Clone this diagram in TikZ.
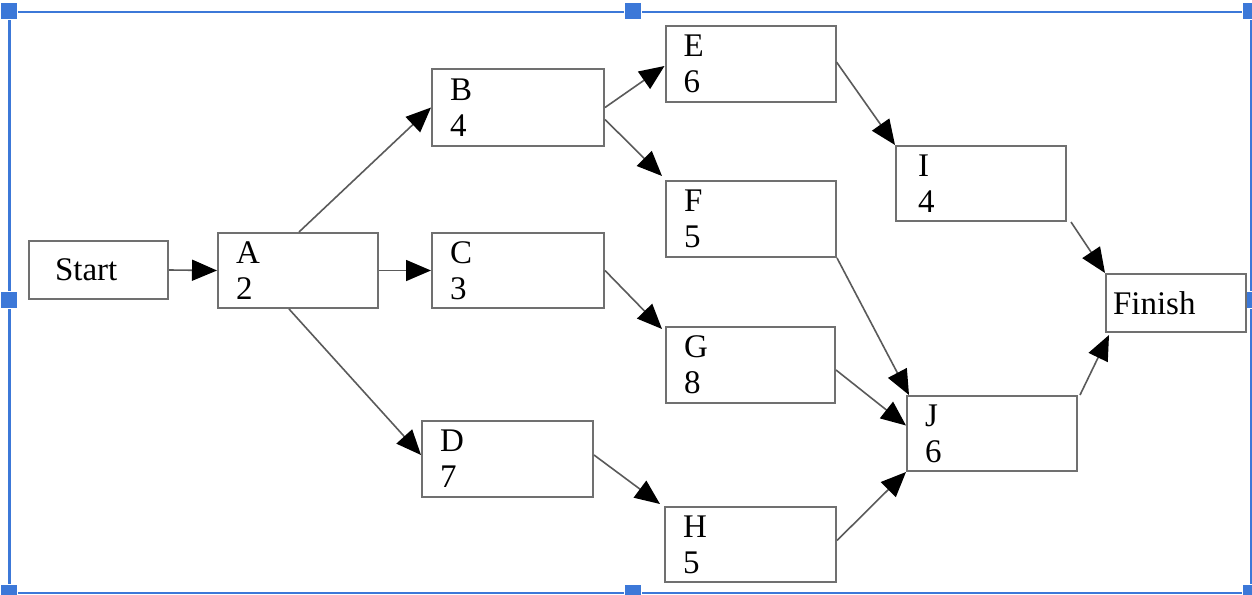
\documentclass[tikz,border=0pt]{standalone}
\usepackage{fontspec}
\setmainfont{Liberation Serif}
\usetikzlibrary{arrows.meta,calc}
\definecolor{boxgray}{HTML}{707070}
\definecolor{linegray}{HTML}{5A5A5A}
\definecolor{selblue}{HTML}{3C78D8}
\tikzset{
  task/.style={draw=boxgray, line width=2pt, fill=white, rectangle, inner ysep=0pt,
    inner xsep=18pt, align=left, font=\fontsize{33}{36}\selectfont},
  conn/.style={draw=linegray, line width=1.6pt, -{Triangle[length=25pt,width=21pt,color=black]}},
  frameline/.style={draw=selblue, line width=2.2pt},
  handle/.style={fill=selblue, draw=white, line width=1.5pt, rectangle, minimum size=17pt, inner sep=0pt}
}
\begin{document}
\begin{tikzpicture}[x=1pt,y=-1pt]
\useasboundingbox (0,0) rectangle (1252,594);
\fill[white] (0,0) rectangle (1252,594);
% selection frame
\draw[frameline] (9.5,12) rectangle (1251,593);
\foreach \hx/\hy [count=\i] in {9/11,633/11,1251/11,9/300,1251/300,9/593,633/593,1251/593}
  \node[handle] (h\i) at (\hx,\hy) {};
% tasks
\node[task, minimum width=139pt, minimum height=58pt, text width=87pt, inner xsep=26pt] (S) at (98.5,270) {Start};
\node[task, minimum width=160pt, minimum height=75pt, text width=124pt] (A) at (298,270.5) {A\\2};
\node[task, minimum width=172pt, minimum height=77pt, text width=136pt] (B) at (518,107.5) {B\\4};
\node[task, minimum width=172pt, minimum height=75pt, text width=136pt] (C) at (518,270.5) {C\\3};
\node[task, minimum width=171pt, minimum height=76pt, text width=135pt] (D) at (507.5,459) {D\\7};
\node[task, minimum width=170pt, minimum height=76pt, text width=134pt] (E) at (750.5,64) {E\\6};
\node[task, minimum width=170pt, minimum height=76pt, text width=134pt] (F) at (751,219) {F\\5};
\node[task, minimum width=169pt, minimum height=76pt, text width=133pt] (G) at (750.5,365) {G\\8};
\node[task, minimum width=171pt, minimum height=75pt, text width=135pt] (H) at (750.5,544.5) {H\\5};
\node[task, minimum width=170pt, minimum height=75pt, inner xsep=22pt, text width=126pt] (I) at (981,183.5) {I\\4};
\node[task, minimum width=170pt, minimum height=75pt, text width=134pt] (J) at (992,433.5) {J\\6};
\node[task, minimum width=140pt, minimum height=58pt, text width=126pt, inner xsep=7pt] (Fin) at (1176,303) {Finish};
% connectors
\draw[conn] (S.east) -- (A.west);
\draw[conn] ($(A.north west)+(82,0)$) -- (B.west);
\draw[conn] (A.east) -- (C.west);
\draw[conn] ($(A.south west)+(72,0)$) -- ($(D.west)+(0,-4)$);
\draw[conn] (B.east) -- ($(E.west)+(0,2)$);
\draw[conn] ($(B.east)+(0,12)$) -- ($(F.north west)+(-3,-4)$);
\draw[conn] (C.east) -- ($(G.north west)+(-3,3)$);
\draw[conn] ($(D.east)+(0,-4)$) -- ($(H.north west)+(-4,-2)$);
\draw[conn] ($(E.east)+(0,-2)$) -- (I.north west);
\draw[conn] (F.south east) -- ($(J.north west)+(3,0)$);
\draw[conn] ($(G.east)+(0,5)$) -- ($(J.west)+(0,-8)$);
\draw[conn] ($(H.east)+(0,-4)$) -- (J.south west);
\draw[conn] ($(I.south east)+(4,0)$) -- (Fin.north west);
\draw[conn] ($(J.north east)+(2,0)$) -- ($(Fin.south west)+(4,2)$);
\end{tikzpicture}
\end{document}
